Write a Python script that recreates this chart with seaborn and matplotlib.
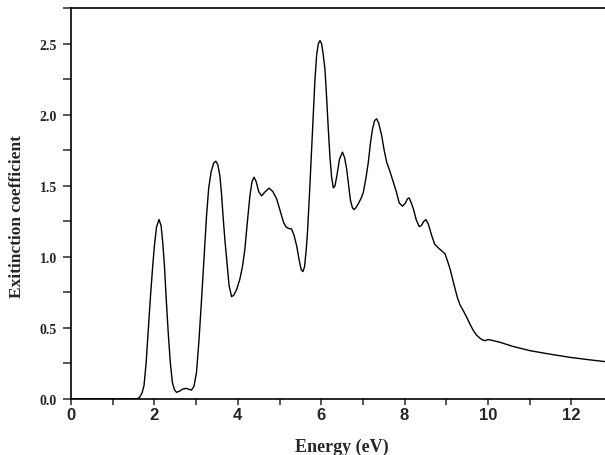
import seaborn as sns
import matplotlib.pyplot as plt
from matplotlib.ticker import MultipleLocator
import pandas as pd

# values
energy = [0, 1.5, 1.58, 1.64, 1.70, 1.75, 1.80, 1.85, 1.90, 1.96,
          2.00, 2.05, 2.11, 2.16, 2.20, 2.24, 2.28, 2.33, 2.38, 2.43,
          2.48, 2.53, 2.60, 2.68, 2.76, 2.83, 2.89, 2.95, 3.01, 3.07,
          3.13, 3.19, 3.25, 3.30, 3.36, 3.42, 3.47, 3.52, 3.57, 3.61,
          3.65, 3.69, 3.73, 3.79, 3.85, 3.90, 3.97, 4.05, 4.11, 4.17,
          4.23, 4.29, 4.34, 4.39, 4.44, 4.50, 4.57, 4.66, 4.75, 4.84,
          4.93, 5.00, 5.05, 5.10, 5.16, 5.22, 5.29, 5.35, 5.41, 5.47,
          5.52, 5.56, 5.60, 5.64, 5.67, 5.72, 5.77, 5.81, 5.85, 5.89,
          5.93, 5.97, 6.01, 6.05, 6.09, 6.13, 6.17, 6.21, 6.25, 6.29,
          6.33, 6.38, 6.44, 6.51, 6.56, 6.61, 6.66, 6.70, 6.75, 6.79,
          6.84, 6.90, 6.96, 7.01, 7.07, 7.13, 7.18, 7.23, 7.28, 7.33,
          7.38, 7.45, 7.51, 7.57, 7.65, 7.73, 7.80, 7.87, 7.95, 8.02,
          8.07, 8.11, 8.16, 8.21, 8.28, 8.35, 8.40, 8.46, 8.51, 8.57,
          8.65, 8.72, 8.81, 8.90, 8.97, 9.03, 9.09, 9.15, 9.21, 9.27,
          9.33, 9.41, 9.49, 9.57, 9.65, 9.73, 9.81, 9.88, 9.93, 10.0,
          10.05, 10.29, 10.6, 11.01, 11.5, 11.97, 12.4, 12.81, 13.0]
kappa = [0, 0, 0.002, 0.01, 0.04, 0.094, 0.25, 0.47, 0.70, 0.94,
         1.08, 1.21, 1.263, 1.22, 1.10, 0.94, 0.72, 0.47, 0.26, 0.117,
         0.065, 0.047, 0.055, 0.07, 0.075, 0.068, 0.063, 0.09, 0.19, 0.42,
         0.70, 1.00, 1.29, 1.48, 1.60, 1.66, 1.674, 1.65, 1.57, 1.44,
         1.27, 1.12, 0.99, 0.80, 0.72, 0.73, 0.77, 0.845, 0.93, 1.056,
         1.25, 1.43, 1.53, 1.561, 1.53, 1.46, 1.43, 1.46, 1.484, 1.46,
         1.41, 1.34, 1.29, 1.24, 1.21, 1.20, 1.197, 1.15, 1.08, 0.98,
         0.91, 0.897, 0.93, 1.05, 1.17, 1.45, 1.76, 2.02, 2.25, 2.42,
         2.50, 2.523, 2.50, 2.42, 2.32, 2.12, 1.90, 1.70, 1.56, 1.486,
         1.50, 1.58, 1.69, 1.737, 1.70, 1.62, 1.50, 1.40, 1.345, 1.333,
         1.35, 1.38, 1.415, 1.455, 1.55, 1.667, 1.80, 1.90, 1.96, 1.972,
         1.94, 1.854, 1.75, 1.667, 1.60, 1.526, 1.46, 1.38, 1.357, 1.38,
         1.41, 1.415, 1.38, 1.338, 1.26, 1.214, 1.22, 1.25, 1.263, 1.23,
         1.15, 1.09, 1.063, 1.04, 1.021, 0.97, 0.915, 0.845, 0.775, 0.71,
         0.662, 0.62, 0.575, 0.525, 0.481, 0.448, 0.427, 0.414, 0.411, 0.418,
         0.416, 0.399, 0.37, 0.34, 0.315, 0.293, 0.277, 0.263, 0.257]

x_ticks = [0, 2, 4, 6, 8, 10, 12]
y_ticks = [0.0, 0.5, 1.0, 1.5, 2.0, 2.5]

df = pd.DataFrame({'Energy': energy, 'k': kappa})

sns.set_style('ticks')
plt.rcParams['font.family'] = ['Liberation Serif', 'DejaVu Serif']

fig = plt.figure(figsize=(6.05, 4.56), dpi=100)
ax = fig.add_axes([0.1174, 0.1228, 0.896, 0.8568])

sns.lineplot(data=df, x='Energy', y='k', color='black', linewidth=1.0, ax=ax)

ax.set_xlim(0, 13)
ax.set_ylim(0, 2.75)
ax.set_xticks(x_ticks)
ax.set_xticklabels([str(t) for t in x_ticks], fontweight='bold', fontsize=12, family='Liberation Sans')
ax.xaxis.set_minor_locator(MultipleLocator(1))
ax.set_yticks(y_ticks)
ax.set_yticklabels(['%.1f' % t for t in y_ticks], fontweight='bold', fontsize=10, family='Liberation Serif')
ax.yaxis.set_minor_locator(MultipleLocator(0.25))

for s in ax.spines.values():
    s.set_linewidth(1.2)
    s.set_color('black')
ax.spines['right'].set_visible(False)

ax.tick_params(axis='y', which='both', direction='out', length=6, width=1.1, pad=4)
ax.tick_params(axis='x', which='both', direction='out', length=4, width=1.1, pad=2)

ax.set_xlabel('Energy (eV)', fontweight='bold', fontsize=13, family='Liberation Serif', labelpad=11)
ax.set_ylabel('Exitinction coefficient', fontweight='bold', fontsize=12.5, family='Liberation Serif')
ax.yaxis.set_label_coords(-0.085, 0.47)

fig.savefig('out.png', dpi=100)
